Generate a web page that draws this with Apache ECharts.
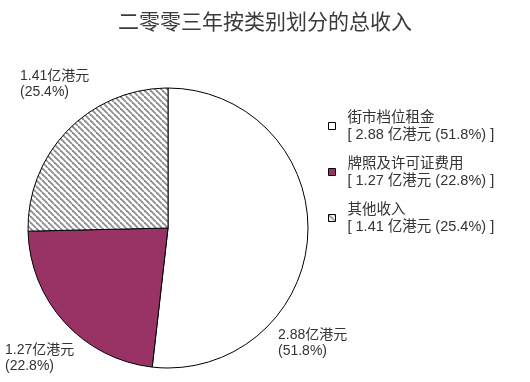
<!DOCTYPE html>
<html><head><meta charset="utf-8">
<script src="https://cdn.jsdelivr.net/npm/echarts@6/dist/echarts.min.js"></script>
<style>html,body{margin:0;padding:0;background:#fff}#c{width:530px;height:382px}</style>
</head><body><div id="c"></div>
<script>
const title = '二零零三年按类别划分的总收入';
const categories = ['街市档位租金', '牌照及许可证费用', '其他收入'];
const valuesHKD = [2.88, 1.27, 1.41];
const percents = [51.8, 22.8, 25.4];
const unit = '亿港元';

// label placement (layout, not data)
const labelAnchors = [[278, 327], [5, 342], [20, 68]];

function hatch() {
  const s = 6;
  const c = document.createElement('canvas');
  c.width = s; c.height = s;
  const g = c.getContext('2d');
  g.fillStyle = '#fff'; g.fillRect(0, 0, s, s);
  g.strokeStyle = '#8c8c8c'; g.lineWidth = 1.8;
  for (let k = -1; k <= 1; k++) {
    g.beginPath(); g.moveTo(k * s, 0); g.lineTo(k * s + s, s); g.stroke();
  }
  return c;
}
const hatchFill = { image: hatch(), repeat: 'repeat' };
const colors = ['#ffffff', '#993366', hatchFill];
const font = '"Liberation Sans", "Noto Sans CJK SC", sans-serif';

const chart = echarts.init(document.getElementById('c'));
chart.setOption({
  animation: false,
  title: { text: title, left: 'center', top: 8, textStyle: { fontFamily: font, fontSize: 21, fontWeight: 'normal', color: '#3a3a3a' } },
  legend: {
    orient: 'vertical', left: 323, top: 104, itemWidth: 7, itemHeight: 7, itemGap: 12,
    textStyle: { fontFamily: font, fontSize: 14.5, color: '#333', lineHeight: 17, padding: [0, 0, 0, 7] },
    formatter: function (name) {
      const i = categories.indexOf(name);
      return name + '\n[ ' + valuesHKD[i].toFixed(2) + ' ' + unit + ' (' + percents[i].toFixed(1) + '%) ]';
    },
    data: categories.map(function (n, i) {
      return { name: n, icon: 'rect', itemStyle: { color: colors[i], borderColor: '#000', borderWidth: 1 } };
    })
  },
  series: [{
    type: 'pie', center: [168, 228], radius: 140, startAngle: 90, clockwise: true,
    itemStyle: { borderColor: '#000', borderWidth: 1 },
    label: {
      show: true, position: 'outside', fontFamily: font, fontSize: 14, color: '#333', lineHeight: 16,
      overflow: 'none', width: 120,
      formatter: function (p) { return valuesHKD[p.dataIndex].toFixed(2) + unit + '\n(' + percents[p.dataIndex].toFixed(1) + '%)'; }
    },
    labelLine: { show: false },
    labelLayout: function (params) {
      const a = labelAnchors[params.dataIndex];
      return { x: a[0], y: a[1], align: 'left', verticalAlign: 'top', hideOverlap: false };
    },
    emphasis: { disabled: true },
    data: categories.map(function (n, i) { return { name: n, value: valuesHKD[i], itemStyle: { color: colors[i] } }; })
  }]
});
</script></body></html>
